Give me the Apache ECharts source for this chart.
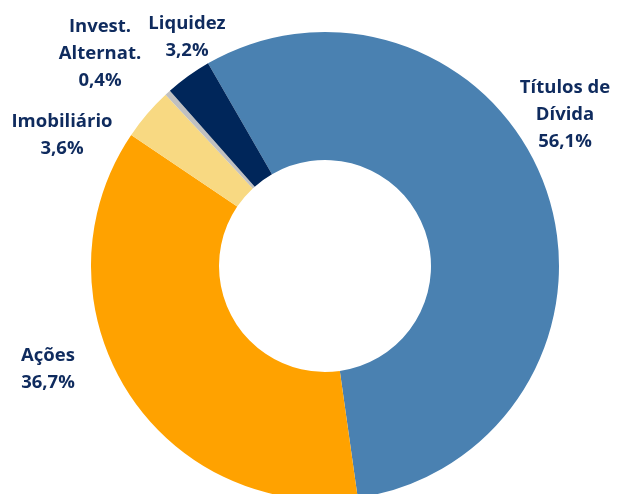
<!DOCTYPE html>
<html>
<head>
<meta charset="utf-8">
<script src="https://cdn.jsdelivr.net/npm/echarts@6/dist/echarts.min.js"></script>
<style>
  html, body { margin: 0; padding: 0; background: #fff; }
  #chart { width: 621px; height: 494px; }
</style>
</head>
<body>
<div id="chart"></div>
<script>
// data
const categories = ["Títulos de\nDívida", "Ações", "Imobiliário", "Invest.\nAlternat.", "Liquidez"];
const shares = [56.1, 36.7, 3.6, 0.4, 3.2];
const colors = ["#4a81b1", "#ffa200", "#f8d982", "#c0c0c0", "#00265a"];

// where each label sits (center of the text block)
const labelPos = [
  [565, 115],
  [48, 369],
  [62, 135],
  [100, 54],
  [187, 37],
];

const chart = echarts.init(document.getElementById("chart"), null, { renderer: "canvas" });

chart.setOption({
  animation: false,
  series: [
    {
      type: "pie",
      center: [325, 266],
      radius: [106, 234],
      startAngle: 120,
      clockwise: true,
      silent: true,
      data: categories.map((name, i) => ({
        name: name,
        value: shares[i],
        itemStyle: { color: colors[i] },
      })),
      label: {
        show: true,
        position: "outside",
        formatter: (p) => p.name + "\n" + p.value.toFixed(1).replace(".", ",") + "%",
        color: "#0f2b5e",
        fontFamily: "Open Sans",
        fontWeight: "bold",
        fontSize: 18.5,
        lineHeight: 27,
        align: "center",
        overflow: "none",
      },
      labelLine: { show: false },
      labelLayout: (params) => ({
        x: labelPos[params.dataIndex][0],
        y: labelPos[params.dataIndex][1],
        align: "center",
        verticalAlign: "middle",
      }),
    },
  ],
});
</script>
</body>
</html>
